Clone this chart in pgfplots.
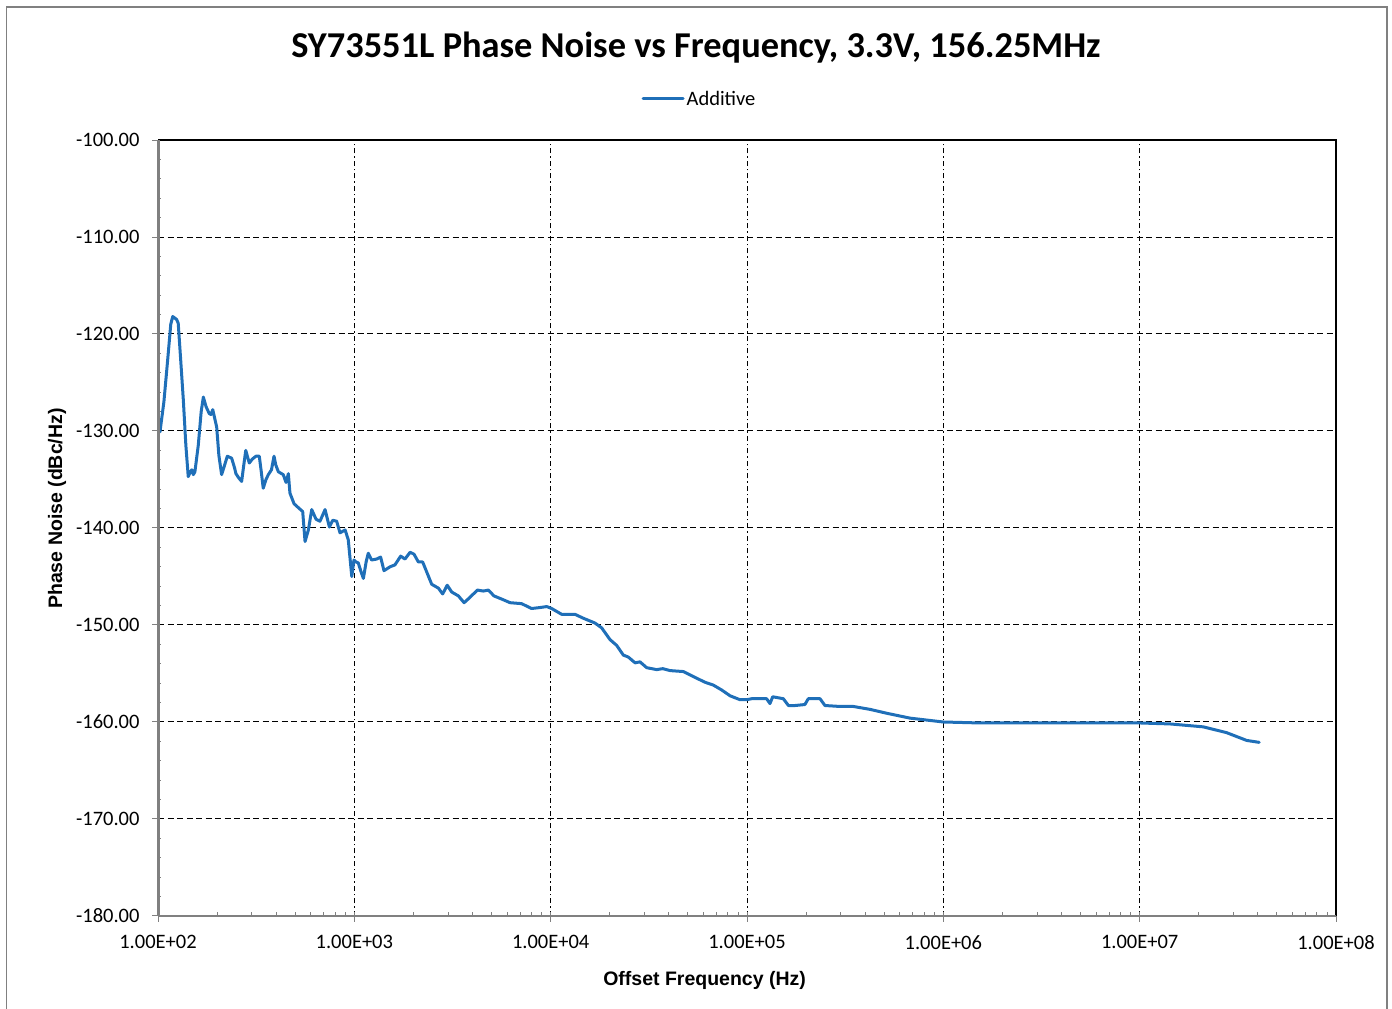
\documentclass[border=0pt]{standalone}
\usepackage{fontspec}
\setmainfont{Carlito}
\newfontfamily\arialfont{Liberation Sans}
\usepackage{pgfplots}
\pgfplotsset{compat=1.18}
\usepackage{pgfplotstable}
\definecolor{pnblue}{RGB}{31,111,184}
\definecolor{axgray}{RGB}{128,128,128}

\pgfplotstableread{
lf pn
2.010 -130.1
2.030 -127.0
2.050 -122.5
2.065 -119.0
2.075 -118.2
2.095 -118.5
2.103 -118.9
2.115 -122.5
2.129 -126.8
2.142 -131.5
2.154 -134.7
2.165 -134.2
2.172 -134.0
2.180 -134.5
2.188 -134.2
2.205 -131.5
2.220 -128.0
2.231 -126.5
2.245 -127.5
2.261 -128.2
2.270 -128.3
2.279 -127.8
2.299 -129.6
2.310 -132.5
2.324 -134.5
2.335 -133.8
2.353 -132.6
2.375 -132.8
2.390 -133.8
2.397 -134.4
2.410 -134.8
2.426 -135.2
2.437 -133.5
2.447 -132.0
2.465 -133.3
2.480 -132.9
2.499 -132.6
2.516 -132.6
2.526 -134.2
2.536 -135.9
2.550 -135.0
2.562 -134.5
2.578 -134.0
2.591 -132.6
2.600 -133.5
2.613 -134.2
2.638 -134.5
2.652 -135.3
2.664 -134.4
2.672 -136.4
2.693 -137.5
2.720 -138.0
2.737 -138.3
2.749 -141.4
2.766 -140.2
2.783 -138.1
2.805 -139.1
2.825 -139.3
2.851 -138.1
2.873 -139.9
2.890 -139.2
2.910 -139.3
2.927 -140.5
2.953 -140.2
2.969 -141.2
2.987 -145.0
2.998 -143.3
3.009 -143.5
3.020 -143.6
3.034 -144.5
3.046 -145.2
3.060 -143.5
3.071 -142.6
3.088 -143.3
3.114 -143.2
3.134 -143.0
3.151 -144.4
3.182 -144.0
3.207 -143.8
3.236 -142.9
3.258 -143.2
3.284 -142.5
3.304 -142.7
3.326 -143.5
3.348 -143.5
3.372 -144.7
3.394 -145.8
3.428 -146.2
3.450 -146.8
3.473 -145.9
3.496 -146.6
3.530 -147.0
3.559 -147.7
3.581 -147.3
3.627 -146.4
3.657 -146.5
3.683 -146.4
3.711 -147.0
3.759 -147.4
3.793 -147.7
3.852 -147.8
3.903 -148.3
3.946 -148.2
3.980 -148.1
4.005 -148.3
4.056 -148.9
4.124 -148.9
4.166 -149.3
4.226 -149.8
4.260 -150.3
4.302 -151.5
4.336 -152.1
4.370 -153.1
4.395 -153.3
4.430 -153.9
4.455 -153.8
4.489 -154.4
4.540 -154.6
4.571 -154.5
4.608 -154.7
4.676 -154.8
4.735 -155.4
4.786 -155.9
4.829 -156.2
4.871 -156.7
4.914 -157.3
4.964 -157.7
4.998 -157.7
5.024 -157.6
5.100 -157.6
5.117 -158.1
5.131 -157.4
5.185 -157.6
5.211 -158.3
5.245 -158.3
5.295 -158.2
5.312 -157.6
5.372 -157.6
5.397 -158.3
5.474 -158.4
5.542 -158.4
5.627 -158.7
5.712 -159.1
5.830 -159.6
6.000 -160.0
6.187 -160.1
6.390 -160.1
6.730 -160.1
7.002 -160.1
7.155 -160.2
7.324 -160.5
7.443 -161.1
7.545 -161.9
7.609 -162.1
}\pndata

\begin{document}
\begin{tikzpicture}[x=1pt,y=1pt]
\useasboundingbox (0,0) rectangle (1392,1009);
\draw[axgray, line width=1.2pt] (6.5,-3) rectangle (1387,1002);
\node at (696,961) {\fontsize{36.4}{40}\selectfont\bfseries SY73551L Phase Noise vs Frequency, 3.3V, 156.25MHz};
\begin{axis}[
  at={(158pt,93pt)}, anchor=south west,
  width=1178pt, height=776pt, scale only axis,
  xmode=log, xmin=1e2, xmax=1e8, ymin=-180, ymax=-100,
  xtick={1e2,1e3,1e4,1e5,1e6,1e7,1e8},
  xticklabels={1.00E+02,1.00E+03,1.00E+04,1.00E+05,1.00E+06,1.00E+07,1.00E+08},
  ytick={-180,-170,-160,-150,-140,-130,-120,-110,-100},
  minor y tick num=4,
  yticklabel style={/pgf/number format/fixed, /pgf/number format/fixed zerofill, /pgf/number format/precision=2},
  /pgf/number format/assume math mode=true,
  ticklabel style={font=\fontsize{20.5}{22}\selectfont, black},
  xticklabel style={yshift=-10pt},
  yticklabel style={xshift=-9pt},
  tick align=outside,
  major tick length=6pt, minor tick length=4pt,
  every tick/.style={axgray, line width=1pt},
  minor x tick style={yshift=4pt},
  minor y tick style={xshift=3pt},
  xtick pos=bottom, ytick pos=left,
  axis line style={draw=none},
  grid=major,
  x grid style={black, line width=1pt, dash pattern=on 5pt off 3pt on 1.5pt off 3pt},
  y grid style={black, line width=1pt, dash pattern=on 6pt off 3.5pt},
  xlabel={\arialfont\bfseries Offset Frequency (Hz)},
  ylabel={\arialfont\bfseries Phase Noise (dBc/Hz)},
  label style={font=\fontsize{19.5}{22}\selectfont},
  xlabel style={at={(axis description cs:0.464,-0.0825)}, anchor=center},
  ylabel style={at={(axis description cs:-0.0857,0.525)}, anchor=center},
  legend style={at={(axis description cs:0.4597,1.053)}, anchor=center, draw=none, fill=none,
    font=\fontsize{20.5}{22}\selectfont, inner sep=0pt},
  legend cell align=left,
  legend image code/.code={\draw[#1, line width=3pt] (0pt,0pt) -- (40pt,0pt);},
  clip=false,
]
\addplot[pnblue, line width=3pt, line join=round, line cap=round]
  table[x expr={10^(\thisrow{lf})}, y=pn] {\pndata};
\addlegendentry{Additive}
\draw[black, line width=2pt] (rel axis cs:0,1) -- (rel axis cs:1,1) -- (rel axis cs:1,0);
\draw[axgray, line width=2pt] (rel axis cs:0,0) -- (rel axis cs:1,0);
\draw[axgray, line width=3pt] (rel axis cs:0,0) -- (rel axis cs:0,1);
\end{axis}
\end{tikzpicture}
\end{document}
